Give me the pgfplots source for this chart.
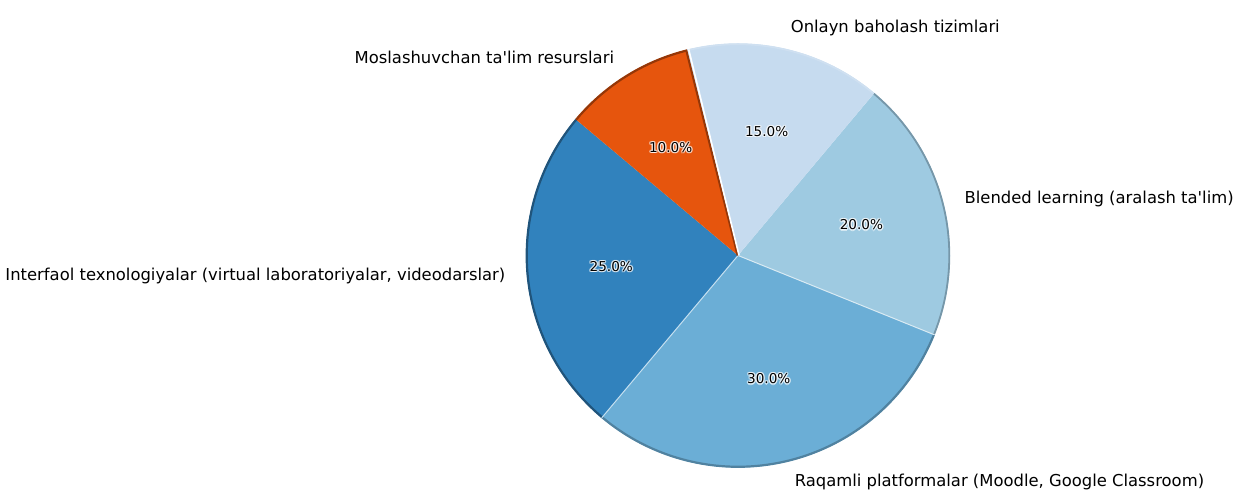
\documentclass[border=0pt]{standalone}
\usepackage{pgfplots}
\pgfplotsset{compat=1.18}
\usepackage{fontspec}
\setmainfont{DejaVu Sans}[Ligatures=TeXOff]
\definecolor{c1}{HTML}{3182BD}
\definecolor{c2}{HTML}{6BAED6}
\definecolor{c3}{HTML}{9ECAE1}
\definecolor{c4}{HTML}{C6DBEF}
\definecolor{c5}{HTML}{E6550D}
% centre (738,244.5), radius 212 (axis units = pixels); start angle 140, counter-clockwise
\newcommand{\glowone}[4]{%
  \node[text=white, opacity=0.55, font=\fontsize{6.8bp}{8bp}\selectfont, inner sep=0pt] at ([xshift=#3bp, yshift=#4bp]axis cs:{738+127.2*cos(#1)},{244.5+127.2*sin(#1)}) {#2};}
\newcommand{\pct}[2]{%
  \glowone{#1}{#2}{0.7}{0}\glowone{#1}{#2}{-0.7}{0}\glowone{#1}{#2}{0}{0.7}\glowone{#1}{#2}{0}{-0.7}%
  \glowone{#1}{#2}{0.5}{0.5}\glowone{#1}{#2}{-0.5}{0.5}\glowone{#1}{#2}{0.5}{-0.5}\glowone{#1}{#2}{-0.5}{-0.5}%
  \node[font=\fontsize{6.8bp}{8bp}\selectfont, inner sep=0pt] at (axis cs:{738+127.2*cos(#1)},{244.5+127.2*sin(#1)}) {#2};}
\begin{document}
\begin{tikzpicture}
\begin{axis}[hide axis, scale only axis, width=618bp, height=250bp,
  xmin=0, xmax=1236, ymin=0, ymax=500, clip=false]
\addplot[draw=none, forget plot] coordinates {(0,0) (1236,500)};
% Interfaol 25%
\addplot[fill=c1, draw=none, domain=140:140+25*3.6, samples=80]
  ({738+212*cos(x)},{244.5+212*sin(x)}) -- (axis cs:738,244.5) -- cycle;
% Raqamli 30%
\addplot[fill=c2, draw=none, domain=230:230+30*3.6, samples=80]
  ({738+212*cos(x)},{244.5+212*sin(x)}) -- (axis cs:738,244.5) -- cycle;
% Blended 20%
\addplot[fill=c3, draw=none, domain=338:338+20*3.6, samples=80]
  ({738+212*cos(x)},{244.5+212*sin(x)}) -- (axis cs:738,244.5) -- cycle;
% Onlayn 15%
\addplot[fill=c4, draw=none, domain=410:410+15*3.6, samples=80]
  ({738+212*cos(x)},{244.5+212*sin(x)}) -- (axis cs:738,244.5) -- cycle;
% Moslashuvchan 10%
\addplot[fill=c5, draw=none, domain=464:464+10*3.6, samples=80]
  ({738+212*cos(x)},{244.5+212*sin(x)}) -- (axis cs:738,244.5) -- cycle;

% bevel rims
\addplot[draw=c1!65!black, line width=1.1bp, domain=140:230, samples=80] ({738+211.3*cos(x)},{244.5+211.3*sin(x)});
\addplot[draw=c2!75!black, line width=1.1bp, domain=230:338, samples=80] ({738+211.3*cos(x)},{244.5+211.3*sin(x)});
\addplot[draw=c3!75!black, line width=0.9bp, domain=338:410, samples=80] ({738+211.3*cos(x)},{244.5+211.3*sin(x)});
\addplot[draw=c4!85!white, line width=0.9bp, domain=410:464, samples=80] ({738+211.3*cos(x)},{244.5+211.3*sin(x)});
\addplot[draw=c5!65!black, line width=1.1bp, domain=464:500, samples=80] ({738+211.3*cos(x)},{244.5+211.3*sin(x)});
\addplot[draw=white!60!c2, line width=0.5bp] coordinates {(738,244.5) (601.7,82.1)};
\addplot[draw=white!60!c3, line width=0.5bp] coordinates {(738,244.5) (934.6,165.1)};
\addplot[draw=c5!65!black, line width=1.0bp] coordinates {(737.6,244.5) (686.1,450.2)};
\addplot[draw=white, line width=0.8bp] coordinates {(739.0,244.7) (688.7,450.6)};

\pct{185}{25.0\%}
\pct{284}{30.0\%}
\pct{374}{20.0\%}
\pct{437}{15.0\%}
\pct{482}{10.0\%}

\tikzset{lab/.style={font=\fontsize{8.2bp}{10bp}\selectfont, inner sep=0pt}}
\node[lab, anchor=east] at (axis cs:{738+233.2*cos(185)},{244.5+233.2*sin(185)}) {Interfaol texnologiyalar (virtual laboratoriyalar, videodarslar)};
\node[lab, anchor=west] at (axis cs:{738+233.2*cos(284)},{244.5+233.2*sin(284)}) {Raqamli platformalar (Moodle, Google Classroom)};
\node[lab, anchor=west] at (axis cs:{738+233.2*cos(374)},{244.5+233.2*sin(374)}) {Blended learning (aralash ta'lim)};
\node[lab, anchor=west] at (axis cs:{738+233.2*cos(437)},{244.5+233.2*sin(437)}) {Onlayn baholash tizimlari};
\node[lab, anchor=east] at (axis cs:{738+233.2*cos(482)},{244.5+233.2*sin(482)}) {Moslashuvchan ta'lim resurslari};
\end{axis}
\end{tikzpicture}
\end{document}
